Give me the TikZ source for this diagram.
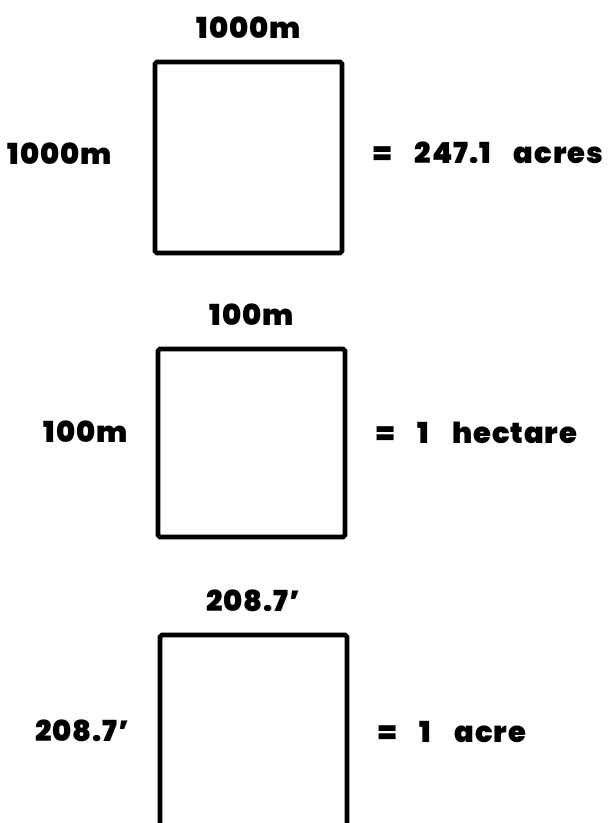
\documentclass[tikz,border=0pt]{standalone}
\usepackage{fontspec}
\setmainfont{Poppins}[BoldFont={Poppins Black},LetterSpace=3,WordSpace=4]
\usetikzlibrary{positioning}
\begin{document}
\begin{tikzpicture}[x=0.02cm,y=-0.02cm,font=\bfseries\fontsize{16.5}{20}\selectfont,
  sq/.style={draw,line width=2.6pt,rounded corners=1pt,minimum width=3.74cm}]
\clip(0,0)rectangle(616,823);
\useasboundingbox(0,0)rectangle(616,823);
% 1 km square
\node[sq,minimum height=3.82cm](km)at(248.5,157.5){};
\node[above=0.3cm of km](kmtop){1000m};
\node[left=0.7cm of km,yshift=0.08cm](kmleft){1000m};
\node[right=0.46cm of km,yshift=0.1cm](kmarea){= 247.1 acres};
% 100 m square
\node[sq,minimum height=3.76cm](ha)at(251.5,443){};
\node[above=0.3cm of ha](hatop){100m};
\node[left=0.44cm of ha,yshift=0.22cm](haleft){100m};
\node[right=0.46cm of ha,yshift=0.2cm](haarea){= 1 hectare};
% one acre, runs off the bottom
\node[sq,minimum height=4cm](ac)at(253.5,735){};
\node[above=0.3cm of ac](actop){208.7'};
\node[left=0.44cm of ac,yshift=0.08cm](acleft){208.7'};
\node[right=0.46cm of ac,yshift=0.06cm](acarea){= 1 acre};
\end{tikzpicture}
\end{document}
